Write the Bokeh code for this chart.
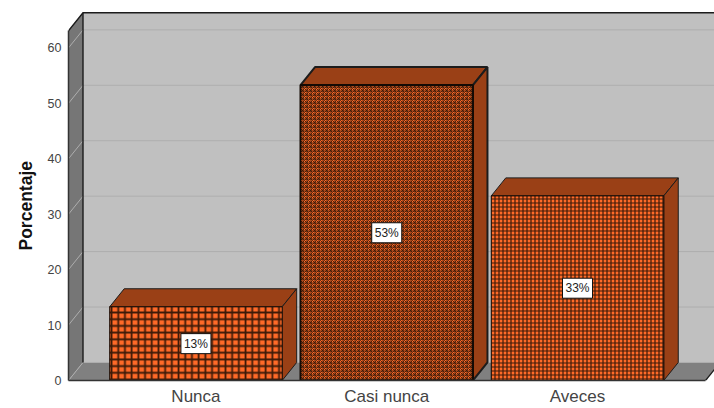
from bokeh.plotting import figure
from bokeh.models import ColumnDataSource, FixedTicker, Title
from bokeh.core.properties import value
from bokeh.embed import file_html
from bokeh.resources import INLINE

categories = ["Nunca", "Casi nunca", "Aveces"]
percentages = [13.3, 53.3, 33.3]
bar_labels = ["13%", "53%", "33%"]
y_ticks = [0, 10, 20, 30, 40, 50, 60]

# 3-D box geometry in data units
X0, X1 = -0.668, 2.671
XMAX = 2.718
DX, DY = 0.076, 3.25
YTOP = 63.1
YMAX = 68.55
BAR_W = 0.904

WALL = "#767676"
FLOOR = "#808080"
BACK = "#c0c0c0"
GRID = "#aeaeae"
EDGE = "#1c1c1c"
SHADE = "#9a4016"
FILL = "#ff6a28"
INK = "#3c1a08"

p = figure(width=714, height=408, x_range=(X0, XMAX), y_range=(0, YMAX),
           output_backend="svg", toolbar_location=None,
           min_border_left=68, min_border_right=0, min_border_top=0, min_border_bottom=28)
p.grid.visible = False
p.outline_line_color = None
p.background_fill_color = "white"
p.border_fill_color = "white"

# walls
p.patch([X0 + DX, X1 + DX + 1, X1 + DX + 1, X0 + DX], [DY, DY, YTOP + DY, YTOP + DY],
        fill_color=BACK, line_color=None)
p.patch([X0, X0 + DX, X0 + DX, X0], [0, DY, YTOP + DY, YTOP],
        fill_color=WALL, line_color=None)
p.patch([X0, X1, X1 + DX, X0 + DX], [0, 0, DY, DY],
        fill_color=FLOOR, line_color=None)

# grid lines
for t in y_ticks[1:]:
    p.line([X0, X0 + DX, XMAX], [t, t + DY, t + DY], line_color=GRID, line_width=1)
p.line([X0, X0 + DX, XMAX], [0, DY, DY], line_color=GRID, line_width=1)

# box edges
p.line([X0, X0 + DX, XMAX], [YTOP, YTOP + DY, YTOP + DY], line_color=EDGE, line_width=1.4)
p.line([X0 + DX, X0 + DX], [DY, YTOP + DY], line_color=EDGE, line_width=1.4)
p.line([X1, X1 + DX], [0, DY], line_color=EDGE, line_width=1.2)

# bars
xs = list(range(len(categories)))
left = [x - BAR_W / 2 for x in xs]
right = [x + BAR_W / 2 for x in xs]
src = ColumnDataSource(dict(
    left=left, right=right, top=percentages, bottom=[0] * 3,
    scale=[6.7, 4.0, 4.0], weight=[1.8, 0.9, 1.2], width=[1.0, 2.0, 1.0],
    pattern=["cross", "criss_cross", "cross"],
))
for l, r, v, w in zip(left, right, percentages, src.data["width"]):
    p.patch([l, l + DX, r + DX, r], [v, v + DY, v + DY, v],
            fill_color=SHADE, line_color=EDGE, line_width=w)
    p.patch([r, r + DX, r + DX, r], [0, DY, v + DY, v],
            fill_color=SHADE, line_color=EDGE, line_width=w)
p.quad(left="left", right="right", top="top", bottom="bottom", source=src,
       fill_color=FILL, line_color="#140a04", line_width="width",
       hatch_pattern="pattern", hatch_color=INK, hatch_scale="scale", hatch_weight="weight")

# value labels
lab = ColumnDataSource(dict(x=xs, y=[v / 2 for v in percentages], t=bar_labels))
p.text("x", "y", text="t", source=lab, text_align="center", text_baseline="middle",
       text_font=value("Liberation Sans"), text_font_size="12px", text_color="#222222",
       background_fill_color="white", background_fill_alpha=1.0,
       border_line_color="#111111", border_line_width=1, padding=3)

# axes
p.xaxis.ticker = FixedTicker(ticks=xs)
p.xaxis.major_label_overrides = dict(zip(xs, categories))
p.xaxis.major_label_text_font = "Liberation Sans"
p.xaxis.major_label_text_font_size = "17px"
p.xaxis.major_label_text_color = "#444444"
p.xaxis.major_label_standoff = 6
p.xaxis.major_tick_line_color = None
p.xaxis.major_tick_out = 0
p.xaxis.major_tick_in = 0
p.xaxis.minor_tick_line_color = None
p.xaxis.axis_line_color = "#333333"
p.xaxis.axis_line_width = 1.5
p.xaxis.bounds = (X0, X1)

p.yaxis.ticker = FixedTicker(ticks=y_ticks)
p.yaxis.bounds = (0, YTOP)
p.yaxis.major_label_text_font = "Liberation Sans"
p.yaxis.major_label_text_font_size = "12.5px"
p.yaxis.major_label_text_color = "#444444"
p.yaxis.major_label_standoff = 7
p.yaxis.major_tick_line_color = None
p.yaxis.major_tick_out = 0
p.yaxis.major_tick_in = 0
p.yaxis.minor_tick_line_color = None
p.yaxis.axis_line_color = "#333333"
p.yaxis.axis_line_width = 1.5

p.add_layout(Title(text="Porcentaje", align="left", offset=130, standoff=18,
                   text_font="Liberation Sans", text_font_size="17.5px",
                   text_font_style="bold", text_color="#111111"), "left")

open("out.html", "w").write(file_html(p, INLINE))
